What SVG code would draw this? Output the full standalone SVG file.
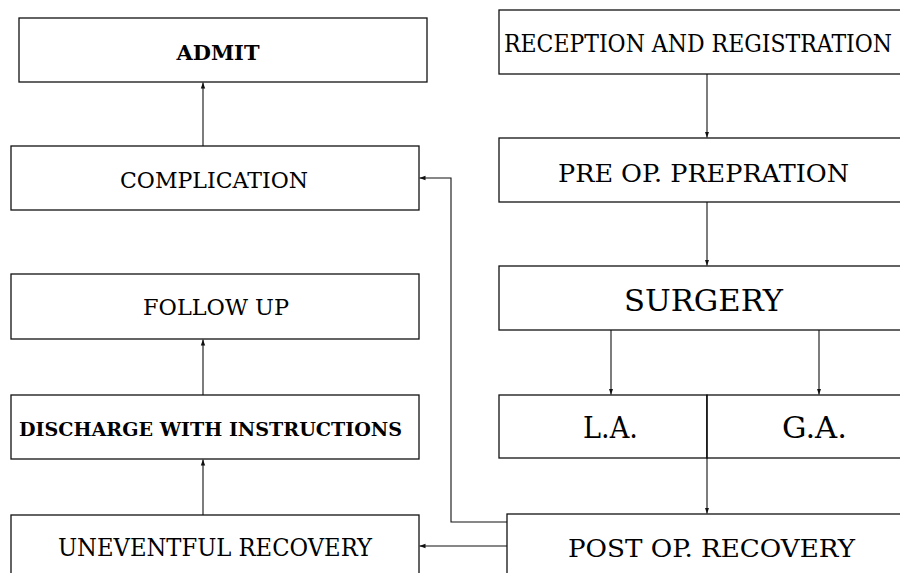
<svg xmlns="http://www.w3.org/2000/svg" width="900" height="573" viewBox="0 0 900 573">
<style>
rect{fill:#fff;stroke:#111;stroke-width:1.3}
text{font-family:"DejaVu Serif","Liberation Serif",serif;fill:#000}
.b{font-weight:bold}
.c{fill:none;stroke:#111;stroke-width:1.1}
</style>
<defs>
<marker id="ah" markerWidth="6" markerHeight="6" refX="6" refY="3" orient="auto" markerUnits="userSpaceOnUse">
<path d="M0,0.8 L6,3 L0,5.2 Z" fill="#111"/>
</marker>
</defs>
<rect x="0" y="0" width="900" height="573" style="fill:#fff;stroke:none"/>
<g id="admit"><rect x="19" y="18" width="408" height="64"/><text class="b" x="218" y="60" font-size="21" text-anchor="middle" textLength="83" lengthAdjust="spacingAndGlyphs">ADMIT</text></g>
<g id="complication"><rect x="11" y="146" width="408" height="64"/><text x="214" y="188" font-size="22.5" text-anchor="middle" textLength="188" lengthAdjust="spacingAndGlyphs">COMPLICATION</text></g>
<g id="followup"><rect x="11" y="274" width="408" height="65"/><text x="216" y="315" font-size="23" text-anchor="middle" textLength="146" lengthAdjust="spacingAndGlyphs">FOLLOW UP</text></g>
<g id="discharge"><rect x="11" y="395" width="408" height="64"/><text class="b" x="19" y="436" font-size="19" textLength="383" lengthAdjust="spacingAndGlyphs">DISCHARGE WITH INSTRUCTIONS</text></g>
<g id="uneventful"><rect x="11" y="515" width="408" height="70"/><text x="215" y="556" font-size="24" text-anchor="middle" textLength="314" lengthAdjust="spacingAndGlyphs">UNEVENTFUL RECOVERY</text></g>
<g id="reception"><rect x="499" y="10" width="420" height="64"/><text x="504" y="52" font-size="24" textLength="388" lengthAdjust="spacingAndGlyphs">RECEPTION AND REGISTRATION</text></g>
<g id="preop"><rect x="499" y="138" width="420" height="64"/><text x="558" y="182" font-size="25" textLength="291" lengthAdjust="spacingAndGlyphs">PRE OP. PREPRATION</text></g>
<g id="surgery"><rect x="499" y="266" width="420" height="64"/><text x="624" y="311" font-size="30" textLength="159" lengthAdjust="spacingAndGlyphs">SURGERY</text></g>
<g id="la"><rect x="499" y="395" width="208" height="63"/><text x="583" y="438" font-size="30" textLength="55" lengthAdjust="spacingAndGlyphs">L.A.</text></g>
<g id="ga"><rect x="707" y="395" width="212" height="63"/><text x="782" y="438" font-size="30" textLength="65" lengthAdjust="spacingAndGlyphs">G.A.</text></g>
<g id="postop"><rect x="507" y="514" width="420" height="70"/><text x="568" y="557" font-size="25" textLength="287" lengthAdjust="spacingAndGlyphs">POST OP. RECOVERY</text></g>
<g id="connectors">
<path class="c" d="M203,146 V82.5" marker-end="url(#ah)"/>
<path class="c" d="M203,395 V339.5" marker-end="url(#ah)"/>
<path class="c" d="M203,515 V459.5" marker-end="url(#ah)"/>
<path class="c" d="M707,74 V137.5" marker-end="url(#ah)"/>
<path class="c" d="M707,202 V265.5" marker-end="url(#ah)"/>
<path class="c" d="M611,330 V394.5" marker-end="url(#ah)"/>
<path class="c" d="M819,330 V394.5" marker-end="url(#ah)"/>
<path class="c" d="M707,395 V513.5" marker-end="url(#ah)"/>
<path class="c" d="M507,522 H451 V178 H419.5" marker-end="url(#ah)"/>
<path class="c" d="M507,546 H419.5" marker-end="url(#ah)"/>
</g>
</svg>
